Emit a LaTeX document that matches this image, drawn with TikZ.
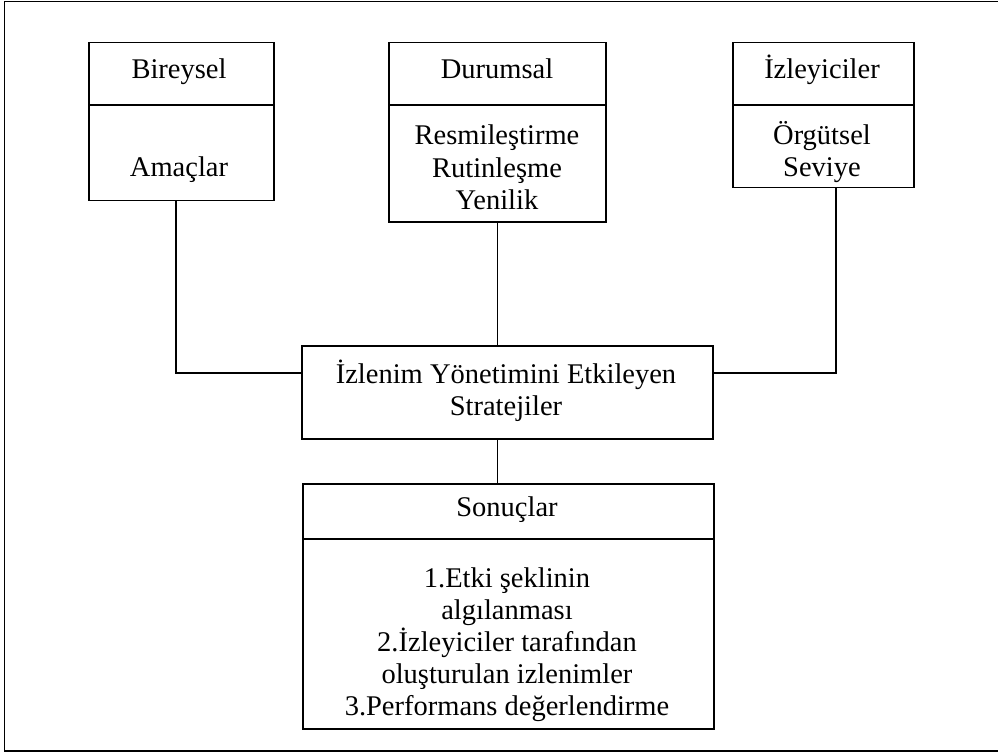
\documentclass[tikz,border=0pt]{standalone}
\usepackage{fontspec}
\setmainfont{Liberation Serif}
\begin{document}
\begin{tikzpicture}[x=1pt,y=-1pt,
  box/.style={draw=black,line width=1.5pt,rectangle,inner sep=0pt,anchor=north west},
  conn/.style={draw=black,line width=1.2pt},
  lbl/.style={inner sep=0pt,anchor=base,align=center,font=\fontsize{28.5}{32}\selectfont}]
\useasboundingbox (0,0) rectangle (998,754);
\draw[line width=1.8pt] (1000,1.5) -- (4.5,1.5) -- (4.5,751) -- (1000,751);
% boxes
\node[box,minimum width=185pt,minimum height=158pt] (bir) at (88,42) {};
\node[box,minimum width=217pt,minimum height=179pt] (dur) at (388,42) {};
\node[box,minimum width=181pt,minimum height=145pt] (izl) at (732,42) {};
\node[box,minimum width=411pt,minimum height=93pt] (cen) at (301,345) {};
\node[box,minimum width=411pt,minimum height=245pt] (son) at (302,483) {};
% dividers
\draw[line width=1.5pt] (bir.west |- 0,105) -- (bir.east |- 0,105);
\draw[line width=1.5pt] (dur.west |- 0,105) -- (dur.east |- 0,105);
\draw[line width=1.5pt] (izl.west |- 0,105) -- (izl.east |- 0,105);
\draw[line width=1.5pt] (son.west |- 0,539) -- (son.east |- 0,539);
% texts (base anchor = baseline of the last line)
\node[lbl] (tbir) at (179,79) {Bireysel};
\node[lbl] (tama) at (179,177) {Amaçlar};
\node[lbl] (tdur) at (497,79) {Durumsal};
\node[lbl] (tdur2) at (497,209) {Resmileştirme\\Rutinleşme\\Yenilik};
\node[lbl] (tizl) at (822,79) {İzleyiciler};
\node[lbl] (tizl2) at (822,177) {Örgütsel\\Seviye};
\node[lbl] (tcen) at (506,415) {İzlenim Yönetimini Etkileyen\\Stratejiler};
\node[lbl] (tson) at (507,516) {Sonuçlar};
\node[lbl] (tson2) at (507,715) {1.Etki şeklinin\\algılanması\\2.İzleyiciler tarafından\\oluşturulan izlenimler\\3.Performans değerlendirme};
% connectors
\coordinate (jL) at (176,373);
\coordinate (jR) at (836,373);
\draw[conn] (bir.south -| jL) -- (jL) -- (cen.west |- jL);
\draw[conn] (izl.south -| jR) -- (jR) -- (cen.east |- jR);
\draw[conn] (dur.south) -- (cen.north -| dur.south);
\draw[conn] (cen.south -| dur.south) -- (son.north -| dur.south);
\end{tikzpicture}
\end{document}
